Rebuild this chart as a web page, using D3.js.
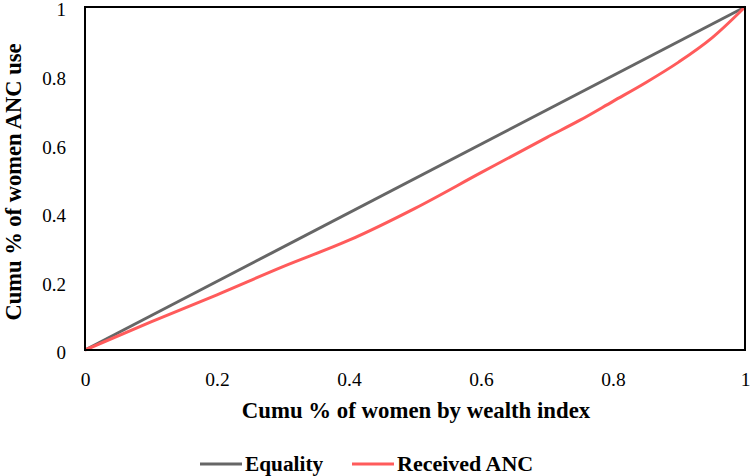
<!DOCTYPE html>
<html><head><meta charset="utf-8">
<script src="https://cdn.jsdelivr.net/npm/d3@7"></script>
<style>body{margin:0;background:#fff}svg{display:block}svg text{font-family:"Liberation Serif","Times New Roman",Tinos,"DejaVu Serif",serif !important}</style>
</head><body><svg id="c" width="750" height="476"></svg>
<script>
const xTicks = [0, 0.2, 0.4, 0.6, 0.8, 1];
const yTicks = [0, 0.2, 0.4, 0.6, 0.8, 1];
const equalityX = [0, 1];
const equalityY = [0, 1];
const ancX = [0, 0.1, 0.2, 0.3, 0.4, 0.5, 0.6, 0.7, 0.75, 0.8, 0.85, 0.9, 0.95, 1];
const ancY = [0, 0.082, 0.161, 0.243, 0.32, 0.413, 0.517, 0.62, 0.67, 0.725, 0.78, 0.84, 0.91, 1];
const seriesNames = ["Equality", "Received ANC"];
const colors = ["#666666", "#ff5b5b"];
const FONT = '"Liberation Serif","Times New Roman",Tinos,"DejaVu Serif",serif';

const svg = d3.select("#c");
const m = {l:85, r:745, t:7, b:350};
const x = d3.scaleLinear().domain([0,1]).range([m.l, m.r]);
const y = d3.scaleLinear().domain([0,1]).range([m.b, m.t]);

const xa = svg.append("g").attr("transform", `translate(0,${m.b})`)
  .call(d3.axisBottom(x).tickValues(xTicks).tickFormat(d3.format("")).tickSize(0).tickPadding(22));
xa.attr("font-family", FONT);
xa.select(".domain").remove();
xa.selectAll("text").attr("font-size", 19.5).attr("fill", "#000");
const ya = svg.append("g").attr("transform", `translate(${m.l},0)`)
  .call(d3.axisLeft(y).tickValues(yTicks).tickFormat(d3.format("")).tickSize(0).tickPadding(19));
ya.attr("font-family", FONT);
ya.select(".domain").remove();
ya.selectAll("text").attr("font-size", 19).attr("fill", "#000").attr("dy", "0.47em");

const line = d3.line().x(d => x(d[0])).y(d => y(d[1]));
svg.append("path").datum(equalityX.map((v,i)=>[v, equalityY[i]]))
  .attr("d", line).attr("fill","none").attr("stroke", colors[0]).attr("stroke-width", 3);
svg.append("path").datum(ancX.map((v,i)=>[v, ancY[i]]))
  .attr("d", line.curve(d3.curveMonotoneX)).attr("fill","none").attr("stroke", colors[1]).attr("stroke-width", 3);

svg.append("rect").attr("x", m.l).attr("y", m.t).attr("width", m.r-m.l).attr("height", m.b-m.t)
  .attr("fill","none").attr("stroke","#000").attr("stroke-width", 2);

svg.append("text").attr("x", 416).attr("y", 418).attr("text-anchor","middle").attr("font-family", FONT)
  .attr("font-size", 22.8).attr("font-weight","bold").text("Cumu % of women by wealth index");
svg.append("text").attr("transform", "translate(20.5,182) rotate(-90)").attr("text-anchor","middle").attr("font-family", FONT)
  .attr("font-size", 22.5).attr("font-weight","bold").text("Cumu % of women ANC use");

const lg = [[200, 245, 21.3], [352, 397, 22]];
seriesNames.forEach((n,i) => {
  svg.append("line").attr("x1", lg[i][0]).attr("x2", lg[i][0]+42).attr("y1", 464).attr("y2", 464)
    .attr("stroke", colors[i]).attr("stroke-width", 3);
  svg.append("text").attr("x", lg[i][1]).attr("y", 471).attr("font-family", FONT)
    .attr("font-size", lg[i][2]).attr("font-weight","bold").text(n);
});
</script></body></html>
